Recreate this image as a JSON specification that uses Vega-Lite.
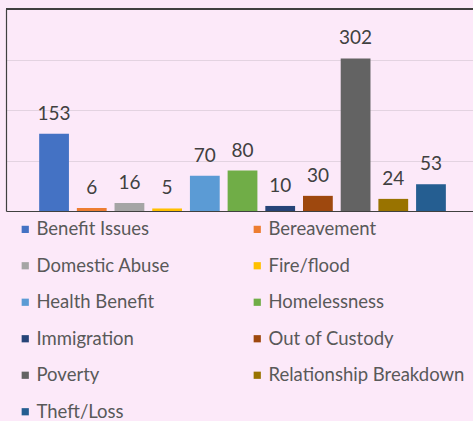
{
  "$schema": "https://vega.github.io/schema/vega-lite/v6.json",
  "autosize": "none",
  "width": 467,
  "height": 202,
  "padding": {"left": 6, "top": 9, "right": 0, "bottom": 210},
  "background": "#fce9f9",
  "config": {"view": {"stroke": null}, "font": "Lato"},
  "data": {"values": [
    {"cat": "Benefit Issues", "v": 153},
    {"cat": "Bereavement", "v": 6},
    {"cat": "Domestic Abuse", "v": 16},
    {"cat": "Fire/flood", "v": 5},
    {"cat": "Health Benefit", "v": 70},
    {"cat": "Homelessness", "v": 80},
    {"cat": "Immigration", "v": 10},
    {"cat": "Out of Custody", "v": 30},
    {"cat": "Poverty", "v": 302},
    {"cat": "Relationship Breakdown", "v": 24},
    {"cat": "Theft/Loss", "v": 53}
  ]},
  "encoding": {
    "x": {"field": "cat", "type": "nominal", "sort": null,
      "scale": {"paddingInner": 0.21, "paddingOuter": 0.8, "align": 0.55},
      "axis": {"labels": false, "ticks": false, "title": null, "domainColor": "#404040", "domainWidth": 1.2}},
    "y": {"field": "v", "type": "quantitative",
      "scale": {"domain": [0, 400], "nice": false},
      "axis": {"labels": false, "ticks": false, "title": null, "values": [100, 200, 300], "gridColor": "#e3d3e1", "gridWidth": 1.2, "domainColor": "#404040", "domainWidth": 1.2}}
  },
  "layer": [
    {
      "mark": {"type": "bar"},
      "encoding": {
        "color": {"field": "cat", "type": "nominal",
          "scale": {
            "domain": ["Benefit Issues", "Bereavement", "Domestic Abuse", "Fire/flood", "Health Benefit", "Homelessness", "Immigration", "Out of Custody", "Poverty", "Relationship Breakdown", "Theft/Loss"],
            "range": ["#4472c4", "#ed7d31", "#a5a5a5", "#ffc000", "#5b9bd5", "#70ad47", "#264478", "#9e480e", "#636363", "#997300", "#255e91"]},
          "legend": {"title": null, "orient": "none", "legendX": 10, "legendY": 211, "columns": 2, "direction": "horizontal",
            "symbolType": "square", "symbolSize": 52, "symbolStrokeWidth": 0, "symbolOffset": 0,
            "labelFontSize": 18.5, "labelColor": "#595959", "labelFont": "Lato", "labelOffset": 2,
            "rowPadding": 17.5, "columnPadding": 78, "padding": 0, "labelLimit": 300}}
      }
    },
    {
      "mark": {"type": "text", "baseline": "alphabetic", "dy": -14, "fontSize": 19, "color": "#404040", "font": "Lato"},
      "encoding": {"text": {"field": "v", "type": "quantitative"}}
    },
    {
      "mark": {"type": "rule", "color": "#404040", "strokeWidth": 1.2},
      "encoding": {"y": {"datum": 400}, "x": {"value": 0}, "x2": {"value": 467}}
    }
  ]
}
